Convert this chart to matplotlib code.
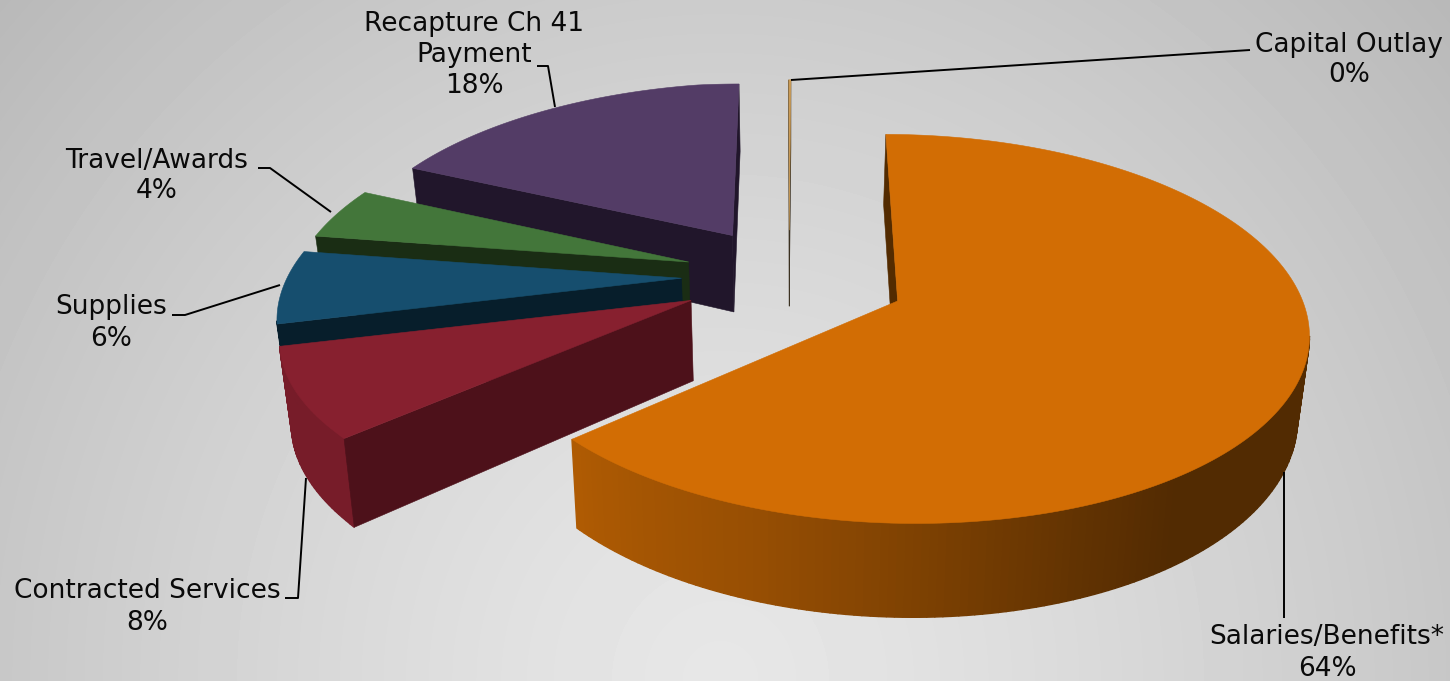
#!/usr/bin/env python3
"""Exploded 3D pie of budget shares, drawn with a small perspective projection."""
import numpy as np
import matplotlib
matplotlib.use('Agg')
import matplotlib.pyplot as plt
from matplotlib.patches import Polygon

# data (clockwise from 12 o'clock)
LABELS = ['Salaries/Benefits*', 'Contracted Services', 'Supplies',
          'Travel/Awards', 'Recapture Ch 41\nPayment', 'Capital Outlay']
VALUES = [63.5, 8.2, 6.3, 4.4, 17.5, 0.1]

TOP_COLORS = ['#d26d04', '#87202f', '#164e6e', '#43763a', '#533c66', '#c99a55']
WALL_COLORS = ['#532b00', '#4d111a', '#071e2b', '#1a2d14', '#21162b', '#3a3020']

# rim shade: clockwise angle -> brightness factor, per slice
RIM_ANGLES = [0, 145, 160, 180, 200, 230, 360]
RIM_SHADE = [
    [0.39, 0.39, 0.47, 0.60, 0.72, 0.84, 0.84],
    [0.88] * 7,
    [0.45] * 7,
    [0.45] * 7,
    [0.45] * 7,
    [0.85] * 7,
]

# label layout in pixels: text centre, leader line
LABEL_POS = [(1327, 652), (147, 606), (111, 322), (157, 175), (474, 54), (1349, 59)]
LEADERS = [
    [(1284, 472), (1284, 618)],
    [(306, 478), (298, 598), (285, 598)],
    [(280, 285), (185, 315), (172, 315)],
    [(331, 212), (270, 168), (258, 168)],
    [(555, 107), (548, 66), (537, 66)],
    [(791, 80), (1250, 50)],
]

W, H = 1450, 681
CX, CY = 789, 278      # pie centre before explode [px]
A, B = 398, 184        # radii at y=0 [px]
K = 0.141              # perspective strength
DEPTH = 79             # extrusion [px]
SHRINK = 0.023         # bottom face is a bit narrower than the top
TILT = 8.0             # left-back of the pie hangs slightly lower [px per radius]
EXPLODE = [0.295, 0.27, 0.27, 0.27, 0.28, 0.27]
START = 0.3            # clockwise from 12 o'clock [deg]


def project(x, y, z=0.0):
    den = 1 + K * y
    sag = TILT * max(-x - 0.27, 0.0) * np.clip((y + 0.75) / 0.5, 0.0, 1.0)
    return CX + A * x * (1 - SHRINK * z) / den, CY + (-B * y + DEPTH * z) / den + sag


def polar(deg, ox=0.0, oy=0.0):
    t = np.radians(deg)
    return ox + np.sin(t), oy + np.cos(t)


def facing(px, py, nx, ny):
    # camera sits at (0, -1/K) in pie coords
    return (0 - px) * nx + (-1 / K - py) * ny > 0


def shade(color, f):
    return tuple(c * f for c in matplotlib.colors.to_rgb(color))


def draw_slice(ax, t0, t1, top, wall, rim_shade, explode):
    mid = np.radians((t0 + t1) / 2)
    ox, oy = explode * np.sin(mid), explode * np.cos(mid)

    # outer rim
    ts = np.arange(t0, t1, 1.0).tolist() + [t1]
    for a, b in zip(ts[:-1], ts[1:]):
        m = (a + b) / 2
        px, py = polar(m, ox, oy)
        if not facing(px, py, *polar(m)):
            continue
        pa, pb = polar(a, ox, oy), polar(b, ox, oy)
        quad = [project(*pa), project(*pb), project(*pb, 1), project(*pa, 1)]
        f = np.interp(m % 360, RIM_ANGLES, rim_shade)
        ax.add_patch(Polygon(quad, fc=shade(top, f), ec=shade(top, f), lw=1.0))

    # cut walls: first edge faces counter-clockwise, last edge clockwise
    for t, sign in ((t0, -1), (t1, 1)):
        r = np.radians(t)
        n = (sign * np.cos(r), -sign * np.sin(r))
        if facing(ox, oy, *n):
            pr = polar(t, ox, oy)
            quad = [project(ox, oy), project(*pr), project(*pr, 1), project(ox, oy, 1)]
            ax.add_patch(Polygon(quad, fc=wall, ec=wall, lw=0.4))

    # top face
    arc = [project(*polar(t, ox, oy)) for t in np.linspace(t0, t1, 200)]
    ax.add_patch(Polygon([project(ox, oy)] + arc, fc=top, ec=top, lw=0.4))


def main():
    fig = plt.figure(figsize=(W / 100, H / 100), dpi=100)
    ax = fig.add_axes([0, 0, 1, 1])
    ax.set_xlim(0, W)
    ax.set_ylim(H, 0)
    ax.axis('off')

    # grey radial backdrop, lightest low in the middle
    yy, xx = np.mgrid[0:H, 0:W]
    dist = np.hypot((xx - 720) / 1050, (yy - 680) / 1100)
    grey = np.clip(0.905 - 0.20 * dist ** 1.3, 0, 1)
    ax.imshow(grey, cmap='gray', vmin=0, vmax=1, extent=(0, W, H, 0), aspect='auto', zorder=0)

    angles = START + np.concatenate([[0], np.cumsum(VALUES)]) / sum(VALUES) * 360
    # painter's order: far slices first, big front slice last
    for i in [5, 4, 3, 2, 1, 0]:
        draw_slice(ax, angles[i], angles[i + 1], TOP_COLORS[i], WALL_COLORS[i], RIM_SHADE[i], EXPLODE[i])

    for label, val, pos, line in zip(LABELS, VALUES, LABEL_POS, LEADERS):
        xs, ys = zip(*line)
        ax.plot(xs, ys, color='black', lw=1.4, solid_capstyle='butt', zorder=5)
        ax.text(pos[0], pos[1] + 1, f'{label}\n{val / sum(VALUES) * 100:.0f}%', ha='center', va='center',
                multialignment='center', fontsize=19, color='#0a0a0a', linespacing=1.25, zorder=6)

    fig.savefig('out.png', dpi=100)


if __name__ == '__main__':
    main()
